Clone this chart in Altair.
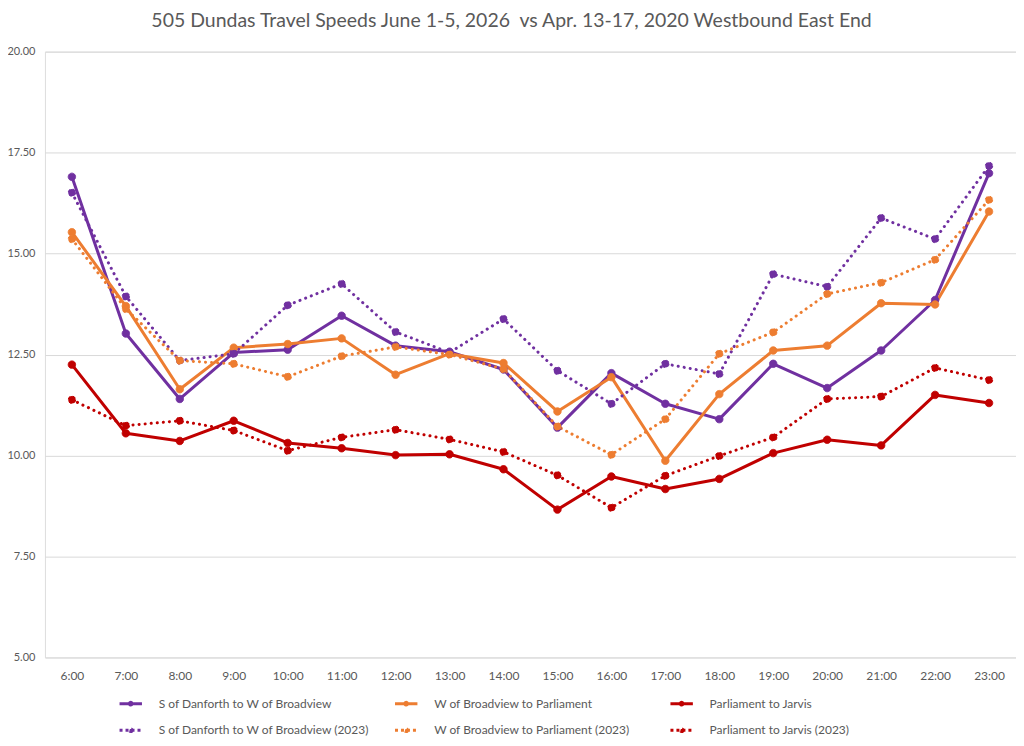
import altair as alt
import pandas as pd

hours = ["6:00", "7:00", "8:00", "9:00", "10:00", "11:00", "12:00", "13:00", "14:00",
         "15:00", "16:00", "17:00", "18:00", "19:00", "20:00", "21:00", "22:00", "23:00"]

series_names = [
    "S of Danforth to W of Broadview",
    "W of Broadview to Parliament",
    "Parliament to Jarvis",
    "S of Danforth to W of Broadview (2023)",
    "W of Broadview to Parliament (2023)",
    "Parliament to Jarvis (2023)",
]

danforth_2026 = [16.90, 13.02, 11.40, 12.55, 12.62, 13.46, 12.72, 12.57, 12.13,
                 10.69, 12.04, 11.28, 10.90, 12.27, 11.67, 12.60, 13.85, 16.99]
broadview_2026 = [15.53, 13.70, 11.64, 12.67, 12.76, 12.90, 12.00, 12.52, 12.29,
                  11.09, 11.94, 9.87, 11.52, 12.60, 12.72, 13.77, 13.74, 16.04]
parliament_2026 = [12.25, 10.55, 10.36, 10.86, 10.31, 10.18, 10.01, 10.03, 9.66,
                   8.66, 9.48, 9.17, 9.42, 10.06, 10.39, 10.25, 11.50, 11.30]
danforth_2023 = [16.51, 13.94, 12.35, 12.52, 13.72, 14.25, 13.06, 12.55, 13.38,
                 12.10, 11.28, 12.27, 12.02, 14.49, 14.18, 15.88, 15.36, 17.17]
broadview_2023 = [15.36, 13.63, 12.35, 12.27, 11.95, 12.46, 12.69, 12.50, 12.14,
                  10.72, 10.02, 10.90, 12.52, 13.05, 14.00, 14.28, 14.85, 16.33]
parliament_2023 = [11.38, 10.74, 10.86, 10.62, 10.12, 10.45, 10.64, 10.40, 10.09,
                   9.51, 8.71, 9.50, 9.99, 10.45, 11.40, 11.46, 12.17, 11.87]

series_values = [danforth_2026, broadview_2026, parliament_2026,
                 danforth_2023, broadview_2023, parliament_2023]
series_colors = ["#7030A0", "#ED7D31", "#C00000", "#7030A0", "#ED7D31", "#C00000"]
series_years = [2026, 2026, 2026, 2023, 2023, 2023]
legend_dashes = [[1, 0], [1, 0], [1, 0], [3, 3], [3, 3], [3, 3]]

y_ticks = [5, 7.5, 10, 12.5, 15, 17.5, 20]

rows = []
for name, vals, col, yr in zip(series_names, series_values, series_colors, series_years):
    for h, v in zip(hours, vals):
        rows.append({"hour": h, "speed": v, "series": name, "col": col, "year": yr})
df = pd.DataFrame(rows)

FONT = "Lato"
TEXT = "#595959"
GRID = "#D9D9D9"

x = alt.X("hour:N", sort=hours, scale=alt.Scale(type="point", padding=0.5),
          axis=alt.Axis(title=None, labelAngle=0, domain=False, ticks=False, grid=False,
                        labelPadding=13, labelFont=FONT, labelFontSize=12, labelColor=TEXT))
y = alt.Y("speed:Q", scale=alt.Scale(domain=[5, 20], nice=False, zero=False),
          axis=alt.Axis(title=None, values=y_ticks, format=".2f", domain=False, ticks=False,
                        grid=True, gridColor=GRID, gridWidth=1, labelPadding=10,
                        labelFont=FONT, labelFontSize=11, labelColor=TEXT))

base = alt.Chart(df)

solid = base.transform_filter(alt.datum.year == 2026).mark_line(
    strokeWidth=3, strokeCap="round", strokeJoin="round"
).encode(x=x, y=y, color=alt.Color("col:N", scale=None), detail="series:N")

dotted = base.transform_filter(alt.datum.year == 2023).mark_line(
    strokeWidth=3, strokeCap="round", strokeJoin="round", strokeDash=[0.1, 6]
).encode(x=x, y=y, color=alt.Color("col:N", scale=None), detail="series:N")

SYMBOL = "M-3.03,0H3.03M0.36,0A0.36,0.36,0,1,1,-0.36,0A0.36,0.36,0,1,1,0.36,0Z"

leg = alt.Legend(title=None, orient="none", legendX=80, legendY=647, direction="horizontal",
                 columns=3, symbolType=SYMBOL, symbolSize=55, symbolStrokeWidth=3,
                 labelFont=FONT, labelFontSize=12, labelColor=TEXT, labelOffset=22,
                 columnPadding=18, rowPadding=11, gridAlign="all", padding=0, labelLimit=0)

color_scale = alt.Scale(domain=series_names, range=series_colors)

points = base.mark_point(filled=True, size=55, strokeWidth=1, opacity=1).encode(
    x=x, y=y,
    fill=alt.Fill("series:N", scale=color_scale, legend=leg, sort=series_names),
    stroke=alt.Stroke("series:N", scale=color_scale, legend=leg, sort=series_names),
    strokeDash=alt.StrokeDash("series:N", scale=alt.Scale(domain=series_names, range=legend_dashes),
                              legend=leg, sort=series_names),
)

chart = alt.layer(solid, dotted, points).properties(
    width=973, height=607,
    title=alt.Title("505 Dundas Travel Speeds June 1-5, 2026\u00a0 vs Apr. 13-17, 2020 Westbound East End",
                    font=FONT, fontSize=19.5, fontWeight="normal", color=TEXT,
                    anchor="middle", offset=14, dx=-19),
    autosize=alt.AutoSizeParams(type="none"),
    padding={"left": 37, "top": 43, "right": 0, "bottom": 80},
).configure_view(stroke=None).configure(background="white")

chart.save("out.html", embed_options={"renderer": "svg", "actions": False})
